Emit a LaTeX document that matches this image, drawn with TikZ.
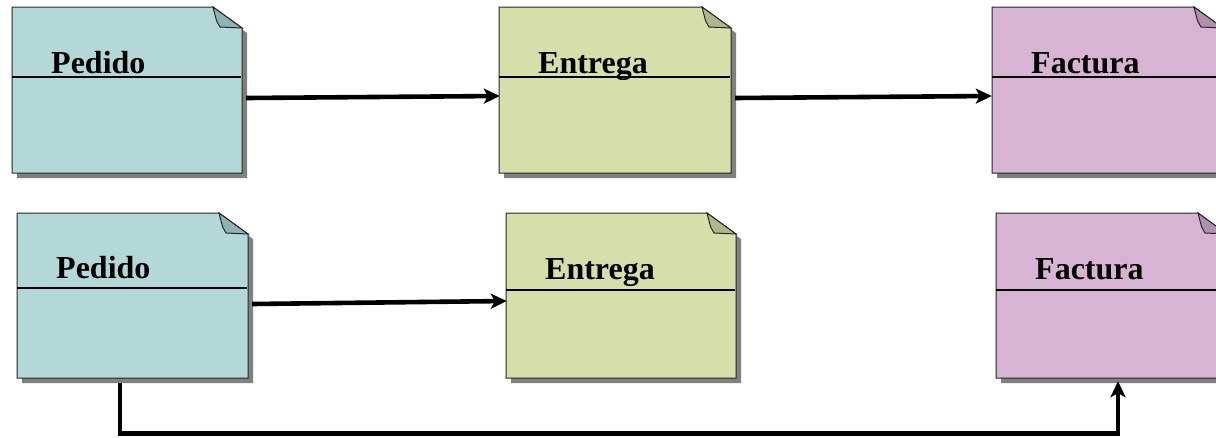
\documentclass[tikz,border=0pt]{standalone}
\usepackage{fontspec}
\setmainfont{Liberation Serif}
\usetikzlibrary{arrows.meta}
\definecolor{pedA}{HTML}{B4D8D8}
\definecolor{pedB}{HTML}{8FB2B2}
\definecolor{entA}{HTML}{D6DEAA}
\definecolor{entB}{HTML}{AFB78A}
\definecolor{facA}{HTML}{D7B4D3}
\definecolor{facB}{HTML}{AE91AC}
\definecolor{shad}{HTML}{808080}
\tikzset{
  boxnode/.style={inner sep=0pt, draw=none},
  boxline/.style={draw=black!85, line width=1pt},
  shadowfill/.style={fill=shad, draw=none},
  header/.style={line width=2.2pt, black},
  title/.style={font=\fontsize{32}{36}\selectfont\bfseries, anchor=base west, inner sep=0pt},
  conn/.style={line width=4.6pt, -{Stealth[length=16pt,width=15pt,inset=4pt]}},
}
% #1 name #2 L #3 T #4 R #5 B #6 colour prefix #7 header y #8 baseline #9 title
\newcommand\docbox[9]{%
  \node[boxnode, minimum width={(#4-#2)*1pt}, minimum height={(#5-#3)*1pt}] (#1) at ({(#2+#4)/2},{(#3+#5)/2}) {};
  \fill[shadowfill, shift={(5,5)}] (#2,#3) -- ({#4-29},#3) -- (#4,{#3+21}) -- (#4,#5) -- (#2,#5) -- cycle;
  \filldraw[boxline, fill=#6A] (#2,#3) -- ({#4-29},#3) -- (#4,{#3+21}) -- (#4,#5) -- (#2,#5) -- cycle;
  \filldraw[boxline, fill=#6B] ({#4-29},#3) -- (#4,{#3+21}) -- ({#4-22},{#3+20}) .. controls ({#4-25},{#3+16}) .. cycle;
  \draw[header] (#2,#7) -- ({#4-1},#7);
  \node[title] (#1t) at ({#2+39},#8) {#9};
}
\begin{document}
\begin{tikzpicture}[x=1pt,y=-1pt]
\useasboundingbox (0,0) rectangle (1216,437);
\docbox{p1}{12}{7}{242}{173}{ped}{77}{73}{Pedido}
\docbox{e1}{499}{7}{731}{173}{ent}{77}{73}{Entrega}
\docbox{f1}{992}{7}{1223}{173}{fac}{77}{73}{Factura}
\docbox{p2}{17}{213}{248}{378}{ped}{288}{278}{Pedido}
\docbox{e2}{506}{213}{736}{378}{ent}{290}{279}{Entrega}
\docbox{f2}{996}{213}{1227}{378}{fac}{290}{279}{Factura}
\draw[conn] ([shift={(4,8)}]p1.east) -- ([shift={(1,6)}]e1.west);
\draw[conn] ([shift={(4,8)}]e1.east) -- ([shift={(0,6)}]f1.west);
\draw[conn] ([shift={(4,8.5)}]p2.east) -- ([shift={(1,5.5)}]e2.west);
\draw[conn] ([shift={(-12.5,5)}]p2.south) -- ++(0,50) -| ([shift={(6.5,3)}]f2.south);
\end{tikzpicture}
\end{document}
